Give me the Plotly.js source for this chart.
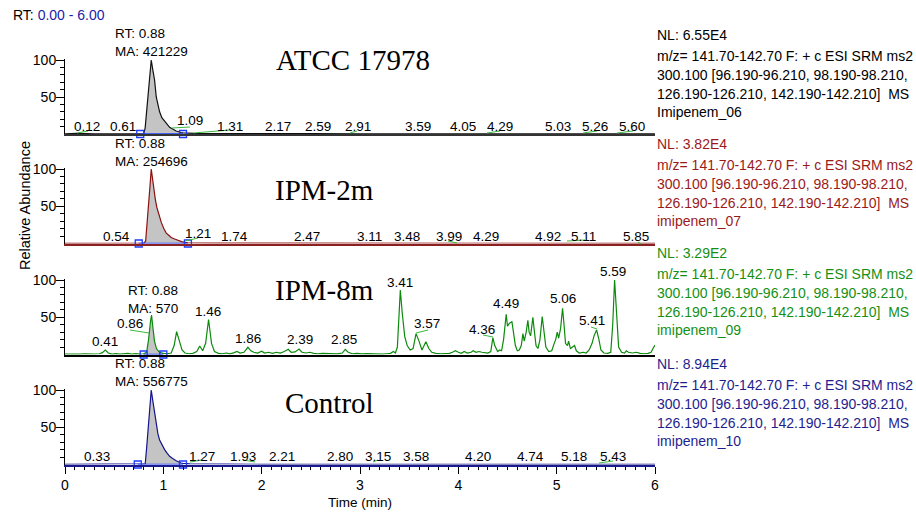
<!DOCTYPE html>
<html>
<head>
<meta charset="utf-8">
<script src="https://cdn.plot.ly/plotly-3.0.1.min.js"></script>
<style>html,body{margin:0;padding:0;background:#fff;}#chart{width:916px;height:512px;}</style>
</head>
<body>
<div id="chart"></div>
<script>
// ---------------- DATA ----------------
const sampleNames = ["ATCC 17978", "IPM-2m", "IPM-8m", "Control"];
const nlValues = ["6.55E4", "3.82E4", "3.29E2", "8.94E4"];
const fileNames = ["Imipenem_06", "imipenem_07", "imipenem_09", "imipenem_10"];
const peakRT = ["0.88", "0.88", "0.88", "0.88"];
const peakMA = ["421229", "254696", "570", "556775"];
const scanLine1 = "m/z= 141.70-142.70 F: + c ESI SRM ms2";
const scanLine2 = "300.100 [96.190-96.210, 98.190-98.210,";
const scanLine3 = "126.190-126.210, 142.190-142.210]  MS";
const xTicks = [0, 1, 2, 3, 4, 5, 6];
const yTicks = [50, 100];

// Panel 1: ATCC 17978
const time1 = [0, 0.12, 0.3, 0.5, 0.61, 0.70, 0.765, 0.80, 0.815, 0.83, 0.845, 0.86, 0.877, 0.895, 0.911, 0.928, 0.945, 0.962, 0.985, 1.013, 1.04, 1.064, 1.09, 1.13, 1.18, 1.20, 1.31, 1.6, 2.0, 2.5, 3.0, 3.5, 4.0, 4.5, 5.0, 5.5, 6.0];
const abund1 = [0.3, 0.8, 0.3, 0.3, 0.6, 0.3, 0.4, 0.5, 8, 30, 55, 80, 100, 85, 73, 50, 38, 30, 22, 17, 12, 9, 7, 4, 2, 1.5, 0.8, 0.5, 0.3, 0.4, 0.3, 0.3, 0.4, 0.3, 0.3, 0.3, 0.3];

// Panel 2: IPM-2m
const time2 = [0, 0.3, 0.54, 0.70, 0.75, 0.80, 0.82, 0.835, 0.85, 0.865, 0.877, 0.89, 0.905, 0.92, 0.935, 0.955, 0.98, 1.005, 1.03, 1.055, 1.08, 1.115, 1.15, 1.185, 1.22, 1.25, 1.5, 2, 3, 4, 5, 6];
const abund2 = [0.3, 0.3, 0.5, 0.3, 0.3, 0.5, 3, 25, 52, 78, 100, 86, 70, 58, 48, 38, 28, 20, 14, 11, 8, 6, 4, 2.5, 1.5, 0.8, 0.4, 0.3, 0.3, 0.3, 0.3, 0.3];

// Panel 3: IPM-8m
const time3 = [0.00,0.05,0.10,0.15,0.20,0.25,0.30,0.35,0.38,0.41,0.44,0.48,0.52,0.56,0.60,0.64,0.68,0.72,0.76,0.80,0.83,0.85,0.87,0.88,0.895,0.91,0.93,0.96,1.00,1.04,1.08,1.11,1.135,1.16,1.19,1.22,1.26,1.30,1.34,1.37,1.40,1.43,1.46,1.49,1.52,1.56,1.60,1.64,1.68,1.72,1.75,1.78,1.82,1.86,1.89,1.92,1.96,2.00,2.03,2.07,2.11,2.15,2.19,2.23,2.27,2.30,2.34,2.38,2.41,2.45,2.49,2.53,2.57,2.62,2.67,2.72,2.77,2.82,2.85,2.88,2.92,2.97,3.02,3.07,3.12,3.17,3.22,3.27,3.31,3.34,3.36,3.38,3.41,3.43,3.455,3.48,3.51,3.54,3.57,3.60,3.63,3.67,3.70,3.73,3.77,3.82,3.87,3.91,3.94,3.97,4.00,4.03,4.06,4.09,4.13,4.15,4.18,4.21,4.24,4.27,4.30,4.33,4.351,4.37,4.40,4.42,4.44,4.46,4.487,4.50,4.52,4.545,4.56,4.58,4.60,4.62,4.64,4.657,4.67,4.69,4.707,4.72,4.735,4.758,4.77,4.79,4.81,4.83,4.853,4.87,4.89,4.92,4.95,4.975,4.99,5.006,5.02,5.04,5.06,5.075,5.09,5.11,5.121,5.14,5.16,5.182,5.20,5.23,5.27,5.30,5.33,5.36,5.38,5.406,5.43,5.45,5.48,5.52,5.55,5.57,5.589,5.61,5.63,5.66,5.69,5.708,5.73,5.77,5.81,5.85,5.89,5.93,5.96,5.98,6.00];
const abund3 = [0.5,0.3,0.8,0.4,1.0,0.5,0.7,1.0,2.5,6.0,2.0,0.6,1.2,0.5,1.0,1.5,0.6,1.2,0.5,1.0,3.0,20,45,53,35,18,8,3,1.5,1.0,2.0,12,30.6,18,6,2,1.0,1.5,4,11.4,5,15,47,15,4,1.5,1.0,2.0,1.0,2.5,4,2,3,9.7,5,3,2,4.5,2,3,1.5,3,2,4,7,3,3.5,7.4,3,2,3,1.5,1.0,1.5,1.0,1.2,0.8,2.0,7,3,1.0,1.5,0.8,1.2,0.8,1.0,0.5,1.0,1.5,4,2,10,86.6,55,24,12,6,8,28,18,6,17,8,3,1.5,1.0,0.8,1.5,3,5,3,1.5,4,2,3,5,3,4,3,2,2,4,22.5,12,4,6,5,20,54,38,42,44,30,12,5,6,12,28,18,30,46,30,25,50,35,12,8,20,51,30,10,4,5,15,20,30,22,35,62,40,15,12,18,8,10,12,5,2,3,2,6,15,25,33,20,6,2,1.5,3,40,100,50,10,3,2,5,3,2,3,1.5,1.0,1.5,3,8,12.7];

// Panel 4: Control
const time4 = [0, 0.33, 0.6, 0.74, 0.80, 0.816, 0.83, 0.845, 0.86, 0.877, 0.89, 0.901, 0.915, 0.928, 0.945, 0.962, 0.985, 1.013, 1.04, 1.064, 1.095, 1.13, 1.18, 1.20, 1.27, 1.6, 2, 3, 4, 5, 6];
const abund4 = [0.3, 0.5, 0.3, 0.3, 0.4, 1, 22, 50, 78, 100, 88, 78, 62, 51, 41, 33, 26, 20, 15, 11, 8, 5, 2, 1.5, 0.8, 0.4, 0.3, 0.3, 0.3, 0.3, 0.3];

// integration windows (start, end) in minutes
const intStart = [0.765, 0.75, 0.80, 0.74];
const intEnd = [1.20, 1.25, 1.00, 1.20];

// peak labels: text, label centre time, label centre height (%)
const labels1 = ["0.12","0.61","1.09","1.31","2.17","2.59","2.91","3.59","4.05","4.29","5.03","5.26","5.60"];
const labX1 = [0.219,0.585,1.267,1.674,2.163,2.570,2.977,3.588,4.046,4.422,5.013,5.389,5.766];
const labY1 = [10.8,10.8,18,10.8,10.8,10.8,10.8,10.8,10.8,10.8,10.8,10.8,10.8];
const labels2 = ["0.54","1.21","1.74","2.47","3.11","3.48","3.99","4.29","4.92","5.11","5.85"];
const labX2 = [0.524,1.349,1.725,2.458,3.099,3.476,3.903,4.280,4.911,5.277,5.807];
const labY2 = [10,14,10,10,10,10,10,10,10,10,10];
const labels3 = ["0.41","0.86","1.46","1.86","2.39","2.85","3.41","3.57","4.36","4.49","5.06","5.41","5.59"];
const labX3 = [0.402,0.656,1.450,1.858,2.387,2.835,3.405,3.679,4.239,4.483,5.064,5.359,5.573];
const labY3 = [18,41,58,22,19.5,19.5,97,41,34,68,74.5,45,112];
const labels4 = ["0.33","1.27","1.93","2.21","2.80","3.15","3.58","4.20","4.74","5.18","5.43"];
const labX4 = [0.321,1.389,1.807,2.204,2.794,3.181,3.567,4.198,4.738,5.176,5.573];
const labY4 = [11.4,11.4,11.4,11.4,11.4,11.4,11.4,11.4,11.4,11.4,11.4];

// ---------------- LAYOUT GEOMETRY ----------------
const W = 916, H = 512, ML = 65, MR = 261;
const SANS = "Liberation Sans, Arial, sans-serif";
const SERIF = "Liberation Serif, Times New Roman, serif";
const zeroPx = [134, 243.5, 354.5, 464.5];
const hundredPx = [60, 169, 280, 390];
const YMAX = 102;
const traceColors = ["#111111", "#8b1010", "#0c8a0c", "#14148c"];
const textColors = ["#000000", "#9a1a1a", "#159015", "#1e1e8e"];
const lineColors = ["#333333", "#8b2020", "#000000", "#1a1a8a"];
const titlePx = [[353, 60], [324, 190], [324, 290], [329, 403]];
const rtPx = [[113, 33], [113, 143], [126, 290], [113, 363]];
const nlPx = [35, 144, 253, 364];

function xp(px) { return (px - ML) / (W - ML - MR); }
function yp(py) { return 1 - py / H; }
function interp(ts, vs, t) {
  for (let i = 1; i < ts.length; i++) {
    if (ts[i] >= t) { const f = (t - ts[i-1]) / (ts[i] - ts[i-1]); return vs[i-1] + f * (vs[i] - vs[i-1]); }
  }
  return vs[vs.length - 1];
}

const times = [time1, time2, time3, time4];
const abunds = [abund1, abund2, abund3, abund4];
const labTexts = [labels1, labels2, labels3, labels4];
const labXs = [labX1, labX2, labX3, labX4];
const labYs = [labY1, labY2, labY3, labY4];

const data = [];
const layout = {
  width: W, height: H,
  margin: {l: ML, r: MR, t: 0, b: 0},
  paper_bgcolor: "#ffffff", plot_bgcolor: "#ffffff",
  showlegend: false,
  font: {family: SANS, size: 13.5, color: "#000"},
  annotations: [], shapes: []
};

for (let k = 0; k < 4; k++) {
  const suf = k === 0 ? "" : String(k + 1);
  const xa = "x" + suf, ya = "y" + suf;
  const ts = times[k], vs = abunds[k];
  const scale = (zeroPx[k] - hundredPx[k]) / 100;
  // integration fill
  const s = intStart[k], e = intEnd[k];
  const fx = [s], fy = [interp(ts, vs, s)];
  ts.forEach((t, i) => { if (t > s && t < e) { fx.push(t); fy.push(vs[i]); } });
  fx.push(e); fy.push(interp(ts, vs, e));
  data.push({x: fx, y: fy, xaxis: xa, yaxis: ya, mode: "lines", fill: "tozeroy",
    fillcolor: "#c4c4c4", line: {width: 0}, hoverinfo: "skip"});
  data.push({x: ts, y: vs, xaxis: xa, yaxis: ya, mode: "lines",
    line: {color: traceColors[k], width: 1.2}});
  data.push({x: [s, e], y: [0, 0], xaxis: xa, yaxis: ya, mode: "lines+markers", cliponaxis: false,
    line: {color: "#1f3cff", width: 1.5},
    marker: {symbol: "square-open", size: 7, color: "#1f3cff", line: {width: 1.3, color: "#1f3cff"}}});

  const topPx = zeroPx[k] - YMAX * scale;
  layout["yaxis" + suf] = {
    domain: [yp(zeroPx[k]), yp(topPx)], range: [0, YMAX], anchor: xa,
    tickvals: yTicks, ticks: "outside", ticklen: 8, tickwidth: 1, tickcolor: "#000",
    ticklabelstandoff: -3,
    showline: true, linecolor: "#000", linewidth: 1, showgrid: false, zeroline: false,
    tickfont: {family: SANS, size: 14, color: "#000"}, fixedrange: true,
    minor: {tickvals: [10, 20, 30, 40, 60, 70, 80, 90], ticks: "outside", ticklen: 4, tickcolor: "#000", tickwidth: 1}
  };
  const xax = {
    domain: [0, 1], range: [0, 6], anchor: ya, showline: true, linecolor: lineColors[k], linewidth: 2,
    showgrid: false, zeroline: false, fixedrange: true
  };
  if (k === 3) {
    Object.assign(xax, {tickmode: "array", tickvals: xTicks, ticks: "outside", ticklen: 7, tickwidth: 1,
      tickcolor: "#000", tickfont: {family: SANS, size: 14, color: "#000"},
      minor: {tick0: 0, dtick: 0.1, ticks: "outside", ticklen: 3.5, tickcolor: "#000", tickwidth: 1}});
  } else {
    Object.assign(xax, {ticks: "", showticklabels: false});
  }
  layout["xaxis" + suf] = xax;

  // peak labels (placed via the panel's own scale, in paper space so labels above 100% still show)
  labTexts[k].forEach((txt, i) => {
    layout.annotations.push({xref: "paper", yref: "paper", x: labXs[k][i] / 6,
      y: yp(zeroPx[k] - labYs[k][i] * scale), text: txt,
      showarrow: false, xanchor: "center", yanchor: "middle", font: {size: 13.5, color: "#000"}});
  });
  // sample title
  layout.annotations.push({xref: "paper", yref: "paper", x: xp(titlePx[k][0]), y: yp(titlePx[k][1]),
    text: sampleNames[k], showarrow: false, xanchor: "center", yanchor: "middle",
    font: {family: SERIF, size: 29, color: "#000"}});
  // RT / MA
  layout.annotations.push({xref: "paper", yref: "paper", x: xp(rtPx[k][0]), y: yp(rtPx[k][1]),
    text: "RT: " + peakRT[k], showarrow: false, xanchor: "left", yanchor: "middle", font: {size: 13.5, color: "#000"}});
  layout.annotations.push({xref: "paper", yref: "paper", x: xp(rtPx[k][0]), y: yp(rtPx[k][1] + 18),
    text: "MA: " + peakMA[k], showarrow: false, xanchor: "left", yanchor: "middle", font: {size: 13.5, color: "#000"}});
  // right-side info
  const infoLines = ["NL: " + nlValues[k], scanLine1, scanLine2, scanLine3, fileNames[k]];
  const offs = [0, 21, 40, 59, 77];
  infoLines.forEach((ln, i) => {
    layout.annotations.push({xref: "paper", yref: "paper", x: xp(655), y: yp(nlPx[k] + offs[i]),
      text: ln, showarrow: false, xanchor: "left", yanchor: "middle",
      font: {size: 14, color: textColors[k]}});
  });
}

// connectors (small green leader lines), pixel coordinates
const connectors = [
  [77,133,88,131],[172,128,190,127],[193,133,230,130],[350,133,357,131],[487,133,500,131],[583,133,597,131],[617,133,633,131],
  [185,241,198,238],[448,241,457,243],[567,241,585,240],[638,242,641,244],
  [130,330,149,333],[416,333,428,330],[483,335,493,337],[591,327,597,329],
  [190,462,202,460],[243,460,255,462],[373,462,378,460],[599,463,613,461]
];
connectors.forEach(c => {
  layout.shapes.push({type: "line", xref: "paper", yref: "paper", x0: xp(c[0]), y0: yp(c[1]), x1: xp(c[2]), y1: yp(c[3]),
    line: {color: "#3cb83c", width: 1}});
});

// global texts
layout.annotations.push({xref: "paper", yref: "paper", x: xp(11), y: yp(15), xanchor: "left", yanchor: "middle",
  text: 'RT: <span style="color:#1c1ca8">0.00 - 6.00</span>', showarrow: false, font: {size: 14, color: "#000"}});
layout.annotations.push({xref: "paper", yref: "paper", x: xp(25), y: yp(206), xanchor: "center", yanchor: "middle",
  text: "Relative Abundance", textangle: -90, showarrow: false, font: {size: 14.5, color: "#000"}});
layout.annotations.push({xref: "paper", yref: "paper", x: xp(360), y: yp(502), xanchor: "center", yanchor: "middle",
  text: "Time (min)", showarrow: false, font: {size: 13.5, color: "#000"}});

Plotly.newPlot("chart", data, layout, {displayModeBar: false, staticPlot: true});
</script>
</body>
</html>
